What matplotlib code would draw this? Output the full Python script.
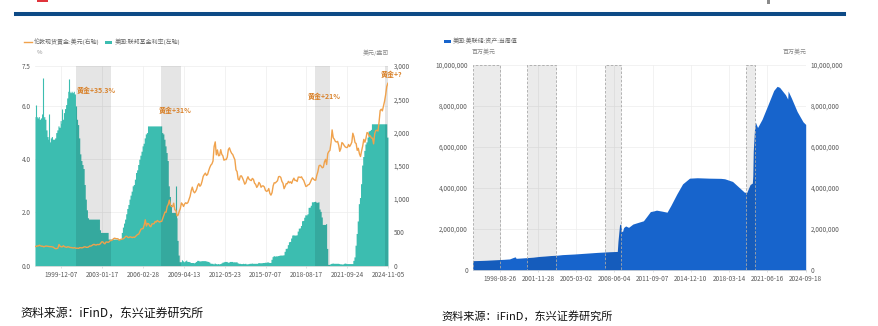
import numpy as np
import pandas as pd
import matplotlib
matplotlib.use("Agg")
import matplotlib.pyplot as plt
from matplotlib.lines import Line2D
from matplotlib.patches import Rectangle
from matplotlib.ticker import FuncFormatter

plt.rcParams['font.family'] = ['Noto Sans CJK SC', 'DejaVu Sans']

# ---------------- left chart: gold vs fed funds (monthly, 1997-12 .. 2024-11) ----------------
month_start = "1997-12-01"
end_left = "2024-11-05"

gold_usd = [289,
    289, 297, 296, 308, 299, 292, 293, 284, 289, 296, 294, 291,      # 1998
    287, 287, 286, 282, 277, 261, 256, 257, 265, 318, 293, 283,      # 1999
    284, 300, 286, 280, 275, 285, 282, 274, 273, 270, 266, 272,      # 2000
    265, 262, 263, 260, 272, 270, 268, 273, 283, 283, 276, 276,      # 2001
    282, 296, 294, 302, 314, 321, 313, 310, 319, 317, 319, 333,      # 2002
    357, 359, 340, 328, 355, 356, 351, 360, 379, 379, 389, 407,      # 2003
    414, 405, 406, 404, 383, 392, 398, 400, 406, 420, 439, 442,      # 2004
    424, 423, 434, 429, 422, 430, 424, 438, 456, 469, 476, 510,      # 2005
    549, 555, 557, 610, 690, 596, 633, 632, 598, 585, 627, 629,      # 2006
    631, 665, 655, 679, 667, 655, 665, 665, 712, 754, 806, 803,      # 2007
    889, 922, 985, 909, 888, 889, 939, 839, 829, 750, 760, 816,      # 2008
    858, 943, 924, 890, 928, 946, 934, 949, 996, 1043, 1127, 1180,   # 2009
    1118, 1095, 1113, 1148, 1205, 1233, 1193, 1215, 1271, 1342, 1370, 1391,  # 2010
    1356, 1372, 1424, 1474, 1510, 1529, 1572, 1790, 1860, 1665, 1739, 1652,  # 2011
    1656, 1743, 1674, 1650, 1585, 1596, 1594, 1630, 1745, 1770, 1721, 1688,  # 2012
    1670, 1627, 1593, 1440, 1414, 1300, 1286, 1347, 1349, 1316, 1275, 1225,  # 2013
    1244, 1301, 1336, 1299, 1287, 1279, 1311, 1296, 1239, 1222, 1176, 1201,  # 2014
    1251, 1227, 1178, 1198, 1199, 1182, 1131, 1117, 1125, 1159, 1086, 1060,  # 2015
    1097, 1200, 1246, 1242, 1260, 1276, 1337, 1341, 1326, 1267, 1238, 1157,  # 2016
    1192, 1234, 1231, 1267, 1246, 1260, 1236, 1283, 1315, 1280, 1283, 1265,  # 2017
    1331, 1331, 1325, 1335, 1303, 1282, 1238, 1190, 1198, 1215, 1221, 1250,  # 2018
    1291, 1320, 1301, 1286, 1284, 1359, 1413, 1500, 1510, 1495, 1471, 1480,  # 2019
    1560, 1597, 1520, 1683, 1716, 1732, 1846, 2040, 1922, 1900, 1866, 1858,  # 2020
    1867, 1808, 1718, 1760, 1850, 1834, 1807, 1785, 1775, 1777, 1821, 1790,  # 2021
    1817, 1856, 1990, 1937, 1849, 1836, 1733, 1764, 1681, 1640, 1726, 1798,  # 2022
    1898, 1855, 1912, 2000, 1992, 1943, 1951, 1918, 1916, 1830, 1985, 2031,  # 2023
    2034, 2023, 2159, 2331, 2351, 2326, 2399, 2470, 2570, 2690, 2740]        # 2024

fed_funds = [5.6,
    5.6, 5.55, 5.6, 5.5, 5.55, 5.7, 5.55, 5.6, 5.5, 5.1, 4.85, 4.75,      # 1998
    4.65, 4.8, 4.85, 4.75, 4.75, 4.8, 5.0, 5.1, 5.25, 5.2, 5.45, 5.35,    # 1999
    5.5, 5.75, 5.9, 6.05, 6.3, 6.55, 6.55, 6.5, 6.55, 6.5, 6.55, 6.45,    # 2000
    6.0, 5.5, 5.3, 4.8, 4.2, 3.95, 3.8, 3.65, 3.05, 2.5, 2.1, 1.8,        # 2001
    1.75, 1.75, 1.75, 1.75, 1.75, 1.75, 1.75, 1.75, 1.75, 1.75, 1.35, 1.25,  # 2002
    1.25, 1.25, 1.25, 1.25, 1.25, 1.25, 1.0, 1.0, 1.0, 1.0, 1.0, 1.0,     # 2003
    1.0, 1.0, 1.0, 1.0, 1.0, 1.0, 1.25, 1.45, 1.6, 1.75, 1.95, 2.15,      # 2004
    2.3, 2.5, 2.65, 2.8, 3.0, 3.05, 3.25, 3.5, 3.6, 3.8, 4.0, 4.15,       # 2005
    4.3, 4.5, 4.6, 4.8, 4.95, 5.0, 5.25, 5.25, 5.25, 5.25, 5.25, 5.25,    # 2006
    5.25, 5.25, 5.25, 5.25, 5.25, 5.25, 5.25, 5.0, 4.95, 4.75, 4.5, 4.25,  # 2007
    3.95, 3.0, 2.6, 2.3, 2.0, 2.0, 2.0, 2.0, 1.8, 0.95, 0.4, 0.15,        # 2008
    0.15, 0.22, 0.18, 0.15, 0.18, 0.21, 0.16, 0.16, 0.15, 0.12, 0.12, 0.12,  # 2009
    0.11, 0.13, 0.16, 0.2, 0.2, 0.18, 0.18, 0.19, 0.19, 0.19, 0.19, 0.18,    # 2010
    0.17, 0.16, 0.14, 0.1, 0.09, 0.09, 0.07, 0.1, 0.08, 0.07, 0.08, 0.07,    # 2011
    0.08, 0.1, 0.13, 0.14, 0.16, 0.16, 0.16, 0.13, 0.14, 0.16, 0.16, 0.16,   # 2012
    0.14, 0.15, 0.14, 0.15, 0.11, 0.09, 0.09, 0.08, 0.08, 0.09, 0.08, 0.09,  # 2013
    0.07, 0.07, 0.08, 0.09, 0.09, 0.1, 0.09, 0.09, 0.09, 0.09, 0.09, 0.12,   # 2014
    0.11, 0.11, 0.11, 0.12, 0.12, 0.13, 0.13, 0.14, 0.14, 0.12, 0.12, 0.24,  # 2015
    0.34, 0.38, 0.36, 0.37, 0.37, 0.38, 0.39, 0.4, 0.4, 0.4, 0.41, 0.54,     # 2016
    0.65, 0.66, 0.79, 0.9, 0.91, 1.04, 1.15, 1.16, 1.15, 1.15, 1.16, 1.3,    # 2017
    1.41, 1.42, 1.51, 1.69, 1.7, 1.82, 1.91, 1.91, 1.95, 2.19, 2.2, 2.27,    # 2018
    2.4, 2.4, 2.41, 2.42, 2.39, 2.38, 2.4, 2.13, 2.04, 1.83, 1.55, 1.55,     # 2019
    1.55, 1.58, 0.65, 0.05, 0.05, 0.08, 0.09, 0.1, 0.09, 0.09, 0.09, 0.09,   # 2020
    0.09, 0.08, 0.07, 0.07, 0.06, 0.08, 0.1, 0.09, 0.08, 0.08, 0.08, 0.08,   # 2021
    0.08, 0.08, 0.2, 0.33, 0.77, 1.21, 1.68, 2.33, 2.56, 3.08, 3.78, 4.1,    # 2022
    4.33, 4.57, 4.65, 4.83, 5.06, 5.08, 5.12, 5.33, 5.33, 5.33, 5.33, 5.33,  # 2023
    5.33, 5.33, 5.33, 5.33, 5.33, 5.33, 5.33, 5.33, 5.33, 4.83, 4.83]        # 2024

# daily spikes in the effective rate
spike_dates = ["1997-12-31", "1998-06-30", "1999-01-04", "1999-12-31", "2000-06-30", "2008-09-16"]
spike_vals = [6.05, 7.05, 5.7, 5.9, 7.0, 3.0]

cut_periods_left = [("2001-01-03", "2003-09-25"), ("2007-07-01", "2009-02-01"),
                    ("2019-04-15", "2020-05-20"), ("2024-08-20", "2024-11-05")]

notes = ["黄金+35.3%", "黄金+31%", "黄金+21%", "黄金+?"]
note_dates = ["2001-02-01", "2007-05-01", "2018-10-01", "2024-04-25"]
note_vals = [6.57, 5.85, 6.38, 7.2]

left_xticks = ["1999-12-07", "2003-01-17", "2006-02-28", "2009-04-13", "2012-05-23",
               "2015-07-07", "2018-08-17", "2021-09-24", "2024-11-05"]
left_yticks = [0, 2, 4, 6, 7.5]
right_yticks_gold = [0, 500, 1000, 1500, 2000, 2500, 3000]

# ---------------- right chart: Fed total assets (million USD) ----------------
fed_dates = ["1996-05-12", "1997-01-01", "1997-07-01", "1998-01-01", "1998-07-01", "1999-01-01",
             "1999-07-01", "1999-11-10", "1999-12-29", "2000-01-20", "2000-07-01", "2001-01-01",
             "2001-07-01", "2002-01-01", "2002-07-01", "2003-01-01", "2003-07-01", "2004-01-01",
             "2004-07-01", "2005-01-01", "2005-07-01", "2006-01-01", "2006-07-01", "2007-01-01",
             "2007-07-01", "2008-01-01", "2008-06-01", "2008-09-03", "2008-09-24", "2008-11-12",
             "2008-12-17", "2009-01-14", "2009-02-11", "2009-03-18", "2009-05-20", "2009-08-19",
             "2009-12-30", "2010-06-30", "2010-11-24", "2011-03-02", "2011-06-29", "2011-10-05",
             "2012-01-04", "2012-06-27", "2012-11-28", "2013-03-27", "2013-09-25", "2014-03-26",
             "2014-10-29", "2015-06-24", "2016-06-29", "2017-06-28", "2017-10-25", "2018-06-27",
             "2019-01-02", "2019-06-26", "2019-09-11", "2019-12-25", "2020-03-04", "2020-03-18",
             "2020-04-01", "2020-05-13", "2020-06-10", "2020-08-12", "2020-12-30", "2021-06-30",
             "2021-12-29", "2022-04-13", "2022-06-29", "2022-12-28", "2023-03-08", "2023-03-22",
             "2023-06-28", "2023-12-27", "2024-06-26", "2024-09-18"]
fed_assets = [455000, 465000, 475000, 490000, 505000, 520000,
              540000, 620000, 640000, 570000, 585000, 605000,
              625000, 660000, 680000, 705000, 720000, 750000,
              765000, 780000, 800000, 820000, 840000, 860000,
              875000, 890000, 900000, 905000, 1400000, 2200000,
              2250000, 1900000, 1870000, 2070000, 2150000, 2080000,
              2240000, 2330000, 2400000, 2600000, 2850000, 2880000,
              2920000, 2870000, 2820000, 3150000, 3700000, 4200000,
              4480000, 4500000, 4480000, 4470000, 4450000, 4320000,
              4050000, 3800000, 3780000, 4170000, 4240000, 4600000,
              5800000, 6950000, 7200000, 6950000, 7350000, 8050000,
              8760000, 8960000, 8910000, 8550000, 8340000, 8730000,
              8400000, 7730000, 7230000, 7100000]

cut_periods_right = [("1996-05-12", "1998-08-26"), ("2001-01-03", "2003-06-01"),
                     ("2007-09-01", "2009-01-01"), ("2019-08-20", "2020-05-20")]
right_xticks = ["1998-08-26", "2001-11-28", "2005-03-02", "2008-06-04", "2011-09-07",
                "2014-12-10", "2018-03-14", "2021-06-16", "2024-09-18"]
right_yticks = [0, 2000000, 4000000, 6000000, 8000000, 10000000]

# ---------------- styles ----------------
TEAL = "#3cbdb0"
ORANGE = "#f0a24c"
NOTE = "#d9822b"
BLUE = "#1764cc"
TICK = "#5a5a5a"
GRID = "#ededed"
FS = 4.6

W, H = 879, 326
fig = plt.figure(figsize=(W / 100, H / 100), dpi=100)


def fx(px):
    return px / W


def fy(py):
    return 1 - py / H


comma = FuncFormatter(lambda v, p: f"{v:,.0f}")

# top banner rule and small header fragments
fig.add_artist(Line2D([fx(16), fx(844)], [fy(14), fy(14)], color="#0d4a86", lw=2.9))
fig.add_artist(Rectangle((fx(37), fy(2)), fx(11), 2 / H, color="#e0343c", lw=0))
fig.add_artist(Rectangle((fx(767.5), fy(4)), fx(2.5), 4 / H, color="#8a8a8a", lw=0))

# ---------------- left chart ----------------
ax1 = fig.add_axes([fx(35), fy(265.7), fx(388 - 35), (265.7 - 66) / H])
dates_m = pd.date_range(month_start, periods=len(gold_usd), freq="MS")
ff_x = list(dates_m) + [pd.Timestamp(end_left)]
ff_y = fed_funds + [fed_funds[-1]]
ax1.fill_between(ff_x, 0, ff_y, step="post", color=TEAL, lw=0, zorder=1)
ax1.vlines(pd.to_datetime(spike_dates), 0, spike_vals, color=TEAL, lw=0.8, zorder=1)
for a, b in cut_periods_left:
    ax1.axvspan(pd.Timestamp(a), pd.Timestamp(b), color="k", alpha=0.1, lw=0, zorder=2)

ax1.set_xlim(pd.Timestamp(month_start), pd.Timestamp(end_left))
ax1.set_ylim(0, 7.5)
ax1.set_yticks(left_yticks)
ax1.set_yticklabels([f"{v:.1f}" for v in left_yticks])
ax1.set_xticks(pd.to_datetime(left_xticks))
ax1.set_xticklabels(left_xticks)
ax1.grid(color=GRID, lw=0.5)
ax1.set_axisbelow(True)
ax1.tick_params(axis="y", length=0, labelsize=FS, colors=TICK, pad=3)
ax1.tick_params(axis="x", length=1.5, width=0.4, color="#c8c8c8", labelsize=FS, colors=TICK, pad=2)
for s in ["top", "left", "right"]:
    ax1.spines[s].set_visible(False)
ax1.spines["bottom"].set_color("#d0d0d0")
ax1.spines["bottom"].set_linewidth(0.5)

for t, d, v in zip(notes, note_dates, note_vals):
    ax1.text(pd.Timestamp(d), v, t, color=NOTE, fontsize=5.0, fontweight="bold",
             va="center", ha="left", zorder=5)

ax1r = ax1.twinx()
ax1r.plot(dates_m, gold_usd, color=ORANGE, lw=1.0)
ax1r.set_ylim(0, 3000)
ax1r.set_yticks(right_yticks_gold)
ax1r.yaxis.set_major_formatter(comma)
ax1r.tick_params(axis="y", length=0, labelsize=FS, colors=TICK, pad=4)
for s in ax1r.spines.values():
    s.set_visible(False)

# left legend + units
fig.add_artist(Line2D([fx(24), fx(31.7)], [fy(42), fy(42)], color=ORANGE, lw=1.0))
fig.text(fx(34.3), fy(42), "伦敦现货黄金:美元(右轴)", fontsize=4.3, color="#666666", va="center")
fig.add_artist(Rectangle((fx(105), fy(43.8)), fx(7.3), 3 / H, color=TEAL, lw=0))
fig.text(fx(114.3), fy(42), "美国:联邦基金利率(左轴)", fontsize=4.3, color="#666666", va="center")
fig.text(fx(36.5), fy(52.5), "%", fontsize=4.3, color="#8a8a8a", va="center")
fig.text(fx(376), fy(52.5), "美元/盎司", fontsize=4.3, color="#8a8a8a", va="center", ha="center")

# ---------------- right chart ----------------
ax2 = fig.add_axes([fx(472.7), fy(270), fx(805.7 - 472.7), (270 - 65) / H])
ax2.fill_between(pd.to_datetime(fed_dates), 0, fed_assets, color=BLUE, lw=0, zorder=1)
for a, b in cut_periods_right:
    ax2.axvspan(pd.Timestamp(a), pd.Timestamp(b), facecolor=(0, 0, 0, 0.08),
                edgecolor="#a8a8a8", ls=(0, (3, 2)), lw=0.6, zorder=2)
ax2.set_xlim(pd.Timestamp("1996-05-12"), pd.Timestamp("2024-09-18"))
ax2.set_ylim(0, 10000000)
ax2.set_yticks(right_yticks)
ax2.yaxis.set_major_formatter(comma)
ax2.set_xticks(pd.to_datetime(right_xticks))
ax2.set_xticklabels(right_xticks)
ax2.grid(color=GRID, lw=0.5)
ax2.set_axisbelow(True)
ax2.tick_params(axis="y", length=0, labelsize=FS, colors=TICK, pad=3.5,
                labelleft=True, labelright=True)
ax2.tick_params(axis="x", length=1.5, width=0.4, color="#c8c8c8", labelsize=FS, colors=TICK, pad=2)
for s in ["top", "left", "right"]:
    ax2.spines[s].set_visible(False)
ax2.spines["bottom"].set_color("#d0d0d0")
ax2.spines["bottom"].set_linewidth(0.5)

fig.add_artist(Rectangle((fx(444), fy(42.5)), fx(6.7), 3 / H, color=BLUE, lw=0))
fig.text(fx(452.7), fy(41.3), "美国:美联储:资产:当周值", fontsize=4.3, color="#666666", va="center")
fig.text(fx(484), fy(52), "百万美元", fontsize=4.3, color="#8a8a8a", va="center", ha="center")
fig.text(fx(795), fy(52), "百万美元", fontsize=4.3, color="#8a8a8a", va="center", ha="center")

# source notes
fig.text(fx(20), fy(312.7), "资料来源：iFinD，东兴证券研究所", fontsize=8.6, color="#111111", va="center")
fig.text(fx(441.7), fy(316.7), "资料来源：iFinD，东兴证券研究所", fontsize=8.0, color="#111111", va="center")

fig.savefig("out.png", dpi=100)
